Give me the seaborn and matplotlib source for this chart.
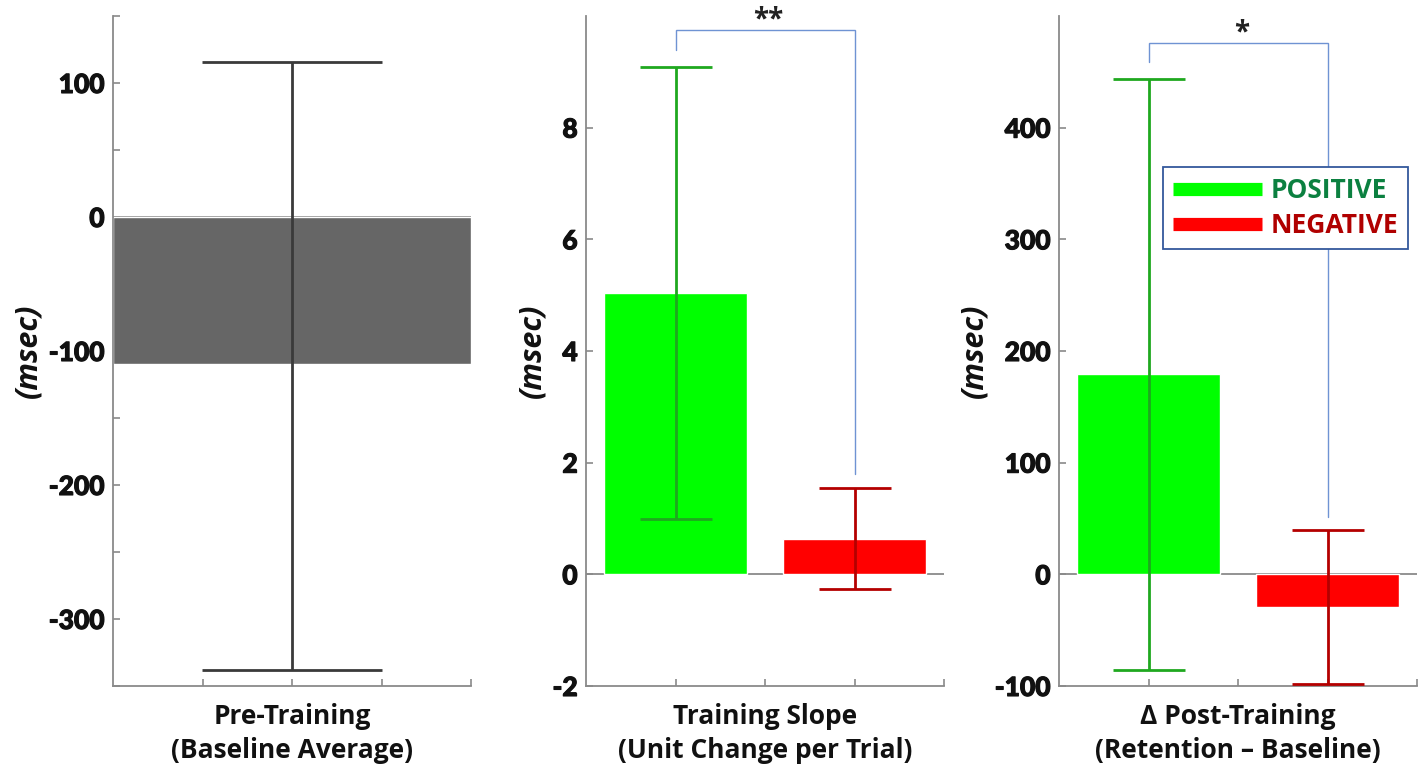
import numpy as np
import pandas as pd
import matplotlib
matplotlib.use("Agg")
import matplotlib.pyplot as plt
import matplotlib.patheffects as pe
from matplotlib.lines import Line2D
from matplotlib.ticker import MultipleLocator, FixedLocator
import seaborn as sns

# ---------------- data ----------------
p1_categories = ["Baseline"]
p1_means = [-110]
p1_err_low = [-338]
p1_err_high = [116]
p1_yticks = [-300, -200, -100, 0, 100]

groups = ["POSITIVE", "NEGATIVE"]

p2_means = [5.03, 0.63]
p2_err_low = [0.99, -0.27]
p2_err_high = [9.08, 1.54]
p2_yticks = [-2, 0, 2, 4, 6, 8]
p2_bracket = [9.40, 9.75, 1.80]   # left end, top, right end
p2_sig = "**"

p3_means = [179, -29]
p3_err_low = [-86, -98]
p3_err_high = [444, 40]
p3_yticks = [-100, 0, 100, 200, 300, 400]
p3_bracket = [459, 476, 51]
p3_sig = "*"

xlabels = ["Pre-Training\n(Baseline Average)",
           "Training Slope\n(Unit Change per Trial)",
           "\u0394 Post-Training\n(Retention \u2013 Baseline)"]
ylabel = "(msec)"

# ---------------- style ----------------
sns.set_theme(style="white")
plt.rcParams["font.family"] = ["Open Sans", "DejaVu Sans"]
plt.rcParams["axes.unicode_minus"] = False

GRAY = "#8a8a8a"
BAR_GRAY = "#666666"
GREEN = "#00ff00"
RED = "#ff0000"
GREEN_ERR = "#1fa81f"
RED_ERR = "#b40000"
BRACKET = "#6f93d3"
TICKFONT = dict(family="Lato", weight=900, size=19)
THICK = [pe.withStroke(linewidth=0.8, foreground="#111111")]

fig = plt.figure(figsize=(14.27, 7.66), dpi=100)
W = 1427.0
H = 766.0
bottom = 1 - 686 / H
height = (686 - 16) / H
lefts = [113, 586, 1059]
width = 358 / W
axes = [fig.add_axes([l / W, bottom, width, height]) for l in lefts]


def style_axis(ax, yticks, ylim, xlim, xticks, xlabel):
    ax.set_ylim(*ylim)
    ax.set_xlim(*xlim)
    for s in ["top", "right"]:
        ax.spines[s].set_visible(False)
    for s in ["left", "bottom"]:
        ax.spines[s].set_color(GRAY)
        ax.spines[s].set_linewidth(1.3)
    ax.yaxis.set_major_locator(FixedLocator(yticks))
    ax.set_yticklabels([str(t) for t in yticks], fontdict=TICKFONT, color="#111111")
    for t in ax.get_yticklabels():
        t.set_path_effects(THICK)
    ax.xaxis.set_major_locator(FixedLocator(xticks))
    ax.set_xticklabels([""] * len(xticks))
    ax.tick_params(axis="both", which="both", direction="in", length=5,
                   width=1.2, color=GRAY, left=True, bottom=True)
    ax.tick_params(axis="y", pad=6)
    ax.set_xlabel(xlabel, fontsize=19, fontweight="bold", color="#111111",
                  labelpad=9, linespacing=1.32)
    ax.set_ylabel(ylabel, fontsize=22, fontweight="bold", style="italic",
                  color="#111111", labelpad=4)
    ax.axhline(0, color=GRAY, lw=1.3, zorder=0.5)
    ax.set_facecolor("white")


# ---------------- panel 1 ----------------
ax = axes[0]
df1 = pd.DataFrame({"cat": p1_categories, "val": p1_means})
sns.barplot(data=df1, x="cat", y="val", color=BAR_GRAY, saturation=1,
            width=1.0, errorbar=None, ax=ax, zorder=1)
m = np.array(p1_means)
yerr = [m - np.array(p1_err_low), np.array(p1_err_high) - m]
ax.errorbar(np.arange(len(m)), m, yerr=yerr, fmt="none", ecolor="#3a3a3a",
            elinewidth=2.0, capsize=64.5, capthick=2.0, zorder=3)
style_axis(ax, p1_yticks, (-350, 150), (-0.5, 0.5), [-0.25, 0, 0.25, 0.5], xlabels[0])
ax.yaxis.set_minor_locator(MultipleLocator(50))
ax.tick_params(axis="y", which="minor", direction="in", length=5, width=1.2, color=GRAY, left=True)


def group_panel(ax, means, lows, highs, yticks, ylim, xlabel, bracket, sig):
    df = pd.DataFrame({"grp": groups, "val": means})
    sns.barplot(data=df, x="grp", y="val", hue="grp", palette=[GREEN, RED],
                saturation=1, width=0.8, errorbar=None, legend=False, ax=ax, zorder=1)
    m = np.array(means)
    x = np.arange(len(m))
    yerr = [m - np.array(lows), np.array(highs) - m]
    for xi, mi, lo, hi, c in zip(x, m, yerr[0], yerr[1], [GREEN_ERR, RED_ERR]):
        ax.errorbar([xi], [mi], yerr=[[lo], [hi]], fmt="none", ecolor=c,
                    elinewidth=2.0, capsize=25.6, capthick=2.0, zorder=3)
    style_axis(ax, yticks, ylim, (-0.5, 1.5), [0, 0.5, 1, 1.5], xlabel)
    ax.plot([x[0], x[0], x[1], x[1]], [bracket[0], bracket[1], bracket[1], bracket[2]],
            color=BRACKET, lw=1.0, zorder=4, solid_joinstyle="miter")
    ax.annotate(sig, xy=((x[0] + x[1]) / 2 + 0.02, bracket[1]), xytext=(0, 1.5),
                textcoords="offset points", ha="center", va="baseline",
                fontsize=20, fontweight="bold", color="#222222",
                annotation_clip=False)


group_panel(axes[1], p2_means, p2_err_low, p2_err_high, p2_yticks, (-2, 10),
            xlabels[1], p2_bracket, p2_sig)
group_panel(axes[2], p3_means, p3_err_low, p3_err_high, p3_yticks, (-100, 500),
            xlabels[2], p3_bracket, p3_sig)

# legend
ax = axes[2]
handles = [Line2D([0], [0], color=GREEN, lw=9.5, solid_capstyle="butt"),
           Line2D([0], [0], color=RED, lw=9.5, solid_capstyle="butt")]
leg = ax.legend(handles, groups, loc="upper right", bbox_to_anchor=(0.975, 0.775),
                frameon=True, fancybox=False, framealpha=1, edgecolor="#34589c",
                prop=dict(family="Open Sans", weight="bold", size=19),
                handlelength=3.4, handletextpad=0.3, labelspacing=0.32,
                borderpad=0.38, borderaxespad=0)
leg.get_frame().set_linewidth(1.3)
leg.set_zorder(5)
for t, c in zip(leg.get_texts(), ["#0b8040", "#b00000"]):
    t.set_color(c)

fig.savefig("out.png", dpi=100, facecolor="white")
